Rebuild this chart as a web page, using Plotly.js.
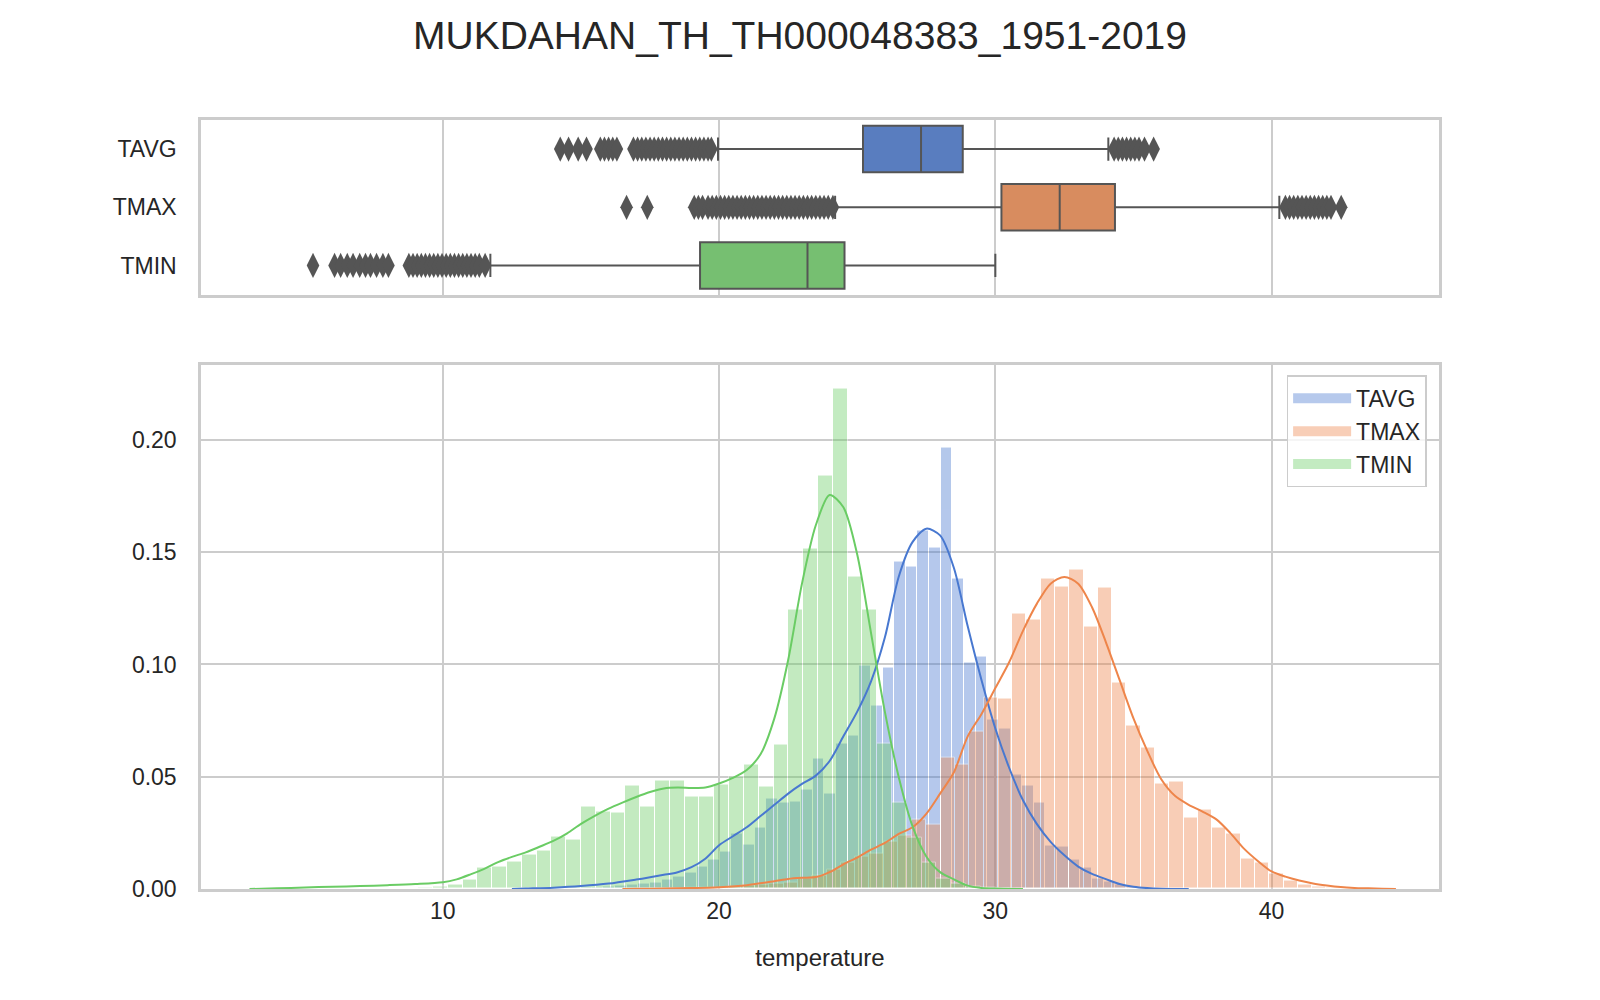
<!DOCTYPE html>
<html>
<head>
<meta charset="utf-8">
<script src="https://cdn.plot.ly/plotly-3.0.1.min.js"></script>
<style>
  html, body { margin: 0; padding: 0; background: #fff; }
  #chart { width: 1600px; height: 1000px; }
</style>
</head>
<body>
<div id="chart"></div>
<script>
// station series
var names = ['TAVG', 'TMAX', 'TMIN'];

// histogram bins (density)
var tavgBinStart = 14.13, tavgBinWidth = 0.421;
var tavgHist = [0.0002, 0.0003, 0.0005, 0.0007, 0.0010, 0.0015, 0.0020, 0.0025, 0.0030, 0.0040,
                0.0055, 0.0075, 0.0100, 0.0130, 0.0167, 0.0246, 0.0197, 0.0275, 0.0402, 0.0386,
                0.0391, 0.0443, 0.0582, 0.0425, 0.0648, 0.0685, 0.0995, 0.0817, 0.0986, 0.1458,
                0.1436, 0.1598, 0.1521, 0.1966, 0.1384, 0.1010, 0.1036, 0.0757, 0.0715, 0.0512,
                0.0460, 0.0383, 0.0194, 0.0190, 0.0131, 0.0095, 0.0048, 0.0032, 0.0021, 0.0011];

var tmaxBinStart = 16.65, tmaxBinWidth = 0.517;
var tmaxHist = [0.0002, 0.0002, 0.0003, 0.0003, 0.0005, 0.0006, 0.0008, 0.0010, 0.0014, 0.0018,
                0.0025, 0.0030, 0.0045, 0.0060, 0.0085, 0.0120, 0.0145, 0.0160, 0.0210, 0.0240,
                0.0310, 0.0288, 0.0584, 0.0555, 0.0700, 0.0853, 0.0848, 0.1229, 0.1200, 0.1384,
                0.1348, 0.1421, 0.1170, 0.1344, 0.0921, 0.0730, 0.0631, 0.0470, 0.0479, 0.0319,
                0.0353, 0.0273, 0.0245, 0.0135, 0.0120, 0.0070, 0.0037, 0.0021, 0.0011, 0.0006];

var tminBinStart = 9.106, tminBinWidth = 0.536;
var tminHist = [0.0005, 0.0010, 0.0020, 0.0040, 0.0094, 0.0099, 0.0124, 0.0154, 0.0172, 0.0233,
                0.0221, 0.0367, 0.0344, 0.0340, 0.0462, 0.0369, 0.0481, 0.0485, 0.0414, 0.0414,
                0.0466, 0.0503, 0.0555, 0.0456, 0.0644, 0.1243, 0.1518, 0.1843, 0.2227, 0.1391,
                0.1246, 0.0648, 0.0384, 0.0230, 0.0117, 0.0048, 0.0024, 0.0010, 0.0005, 0.0003];

// kde curves
var tavgKdeX = [12.5, 13, 14, 15, 16, 17, 17.5, 18, 18.5, 19, 19.5, 20, 20.5, 21, 21.5, 22, 22.5, 23, 23.5, 24,
                24.5, 25, 25.5, 26, 26.5, 27, 27.5, 28, 28.5, 29, 29.5, 30, 30.5, 31, 31.5, 32, 32.5, 33,
                33.5, 34, 34.5, 35, 35.5, 36, 37];
var tavgKdeY = [0, 0.0002, 0.0006, 0.0013, 0.0024, 0.0042, 0.0052, 0.0063, 0.0075, 0.0097, 0.0135, 0.0195,
                0.0235, 0.0275, 0.0325, 0.0375, 0.0425, 0.0468, 0.0505, 0.0570, 0.0680, 0.0790, 0.0925,
                0.1120, 0.1390, 0.1545, 0.1605, 0.1575, 0.1430, 0.1170, 0.0930, 0.0715, 0.0540, 0.0395,
                0.0290, 0.0210, 0.0150, 0.0100, 0.0067, 0.0044, 0.0022, 0.0010, 0.0004, 0.0001, 0];

var tmaxKdeX = [16.5, 17, 18, 19, 20, 21, 22, 22.5, 23, 23.5, 24, 24.5, 25, 25.5, 26, 26.5, 27, 27.5, 28,
                28.5, 29, 29.5, 30, 30.5, 31, 31.5, 32, 32.5, 33, 33.5, 34, 34.5, 35, 35.5, 36, 36.5, 37,
                37.5, 38, 38.5, 39, 39.5, 40, 40.5, 41, 41.5, 42, 42.5, 43, 43.5, 44, 44.5];
var tmaxKdeY = [0, 0.0001, 0.0002, 0.0004, 0.0008, 0.0017, 0.0035, 0.0045, 0.0050, 0.0053, 0.0075, 0.0110,
                0.0140, 0.0175, 0.0205, 0.0245, 0.0275, 0.0335, 0.0425, 0.0520, 0.0680, 0.0780, 0.0895,
                0.1010, 0.1150, 0.1270, 0.1360, 0.1390, 0.1360, 0.1255, 0.1100, 0.0930, 0.0760, 0.0615,
                0.0490, 0.0415, 0.0375, 0.0345, 0.0310, 0.0250, 0.0180, 0.0125, 0.0078, 0.0055, 0.0038,
                0.0025, 0.0016, 0.0009, 0.0005, 0.0003, 0.0001, 0];

var tminKdeX = [3, 4, 5, 6, 7, 8, 9, 10, 10.5, 11, 11.5, 12, 12.5, 13, 13.5, 14, 14.5, 15, 15.5, 16, 16.5,
                17, 17.5, 18, 18.5, 19, 19.5, 20, 20.5, 21, 21.5, 22, 22.5, 23, 23.5, 24, 24.5, 25, 25.5,
                26, 26.5, 27, 27.5, 28, 28.5, 29, 29.5, 30, 31];
var tminKdeY = [0, 0.0003, 0.0007, 0.0010, 0.0013, 0.0017, 0.0022, 0.0030, 0.0043, 0.0065, 0.0090, 0.0120,
                0.0143, 0.0163, 0.0188, 0.0214, 0.0248, 0.0290, 0.0326, 0.0358, 0.0385, 0.0410, 0.0432,
                0.0448, 0.0452, 0.0450, 0.0452, 0.0470, 0.0495, 0.0530, 0.0600, 0.0760, 0.1020, 0.1360,
                0.1620, 0.1755, 0.1700, 0.1490, 0.1140, 0.0790, 0.0500, 0.0280, 0.0145, 0.0075, 0.0043,
                0.0015, 0.0005, 0.0002, 0];

// box plot summaries: q1, median, q3, whisker ends
var boxQ1 = [25.21, 30.22, 19.31];
var boxMedian = [27.31, 32.33, 23.20];
var boxQ3 = [28.82, 34.33, 24.54];
var boxLow = [19.96, 24.20, 11.72];
var boxHigh = [34.09, 40.28, 30.00];

// outliers
var tavgOutliers = [14.25, 14.55, 14.9, 15.2, 15.7, 15.85, 16.0, 16.15, 16.3, 16.9, 17.05, 17.2, 17.35, 17.5,
                    17.65, 17.8, 17.95, 18.1, 18.25, 18.4, 18.55, 18.7, 18.85, 19.0, 19.15, 19.3, 19.45, 19.6, 19.72,
                    34.3, 34.45, 34.6, 34.75, 34.9, 35.05, 35.2, 35.4, 35.73];
var tmaxOutliers = [16.65, 17.4, 19.1, 19.25, 19.4, 19.6, 19.75, 19.9, 20.05, 20.2, 20.35, 20.5, 20.65, 20.8,
                    20.95, 21.1, 21.25, 21.4, 21.55, 21.7, 21.85, 22.0, 22.15, 22.3, 22.45, 22.6, 22.75, 22.9,
                    23.05, 23.2, 23.35, 23.5, 23.65, 23.8, 23.95, 24.12,
                    40.5, 40.65, 40.8, 40.95, 41.1, 41.25, 41.4, 41.55, 41.7, 41.85, 42.0, 42.15, 42.52];
var tminOutliers = [5.3, 6.08, 6.3, 6.54, 6.75, 6.99, 7.2, 7.38, 7.6, 7.83, 8.03,
                    8.77, 8.92, 9.07, 9.22, 9.37, 9.52, 9.67, 9.82, 9.97, 10.12, 10.27, 10.42, 10.57, 10.72,
                    10.87, 11.02, 11.17, 11.32, 11.53];

var histColors = ['#4878d0', '#ee854a', '#6acc64'];
var swatchColors = ['rgba(72,120,208,0.4)', 'rgba(238,133,74,0.4)', 'rgba(106,204,100,0.4)'];
var boxColors = ['#597dbf', '#d88c5f', '#76bf71'];
var grey = '#555555';

function binCenters(start, width, n) {
  var out = [];
  for (var i = 0; i < n; i++) out.push(start + (i + 0.5) * width);
  return out;
}

var hists = [
  [tavgBinStart, tavgBinWidth, tavgHist],
  [tmaxBinStart, tmaxBinWidth, tmaxHist],
  [tminBinStart, tminBinWidth, tminHist]
];
var kdes = [[tavgKdeX, tavgKdeY], [tmaxKdeX, tmaxKdeY], [tminKdeX, tminKdeY]];
var outliers = [tavgOutliers, tmaxOutliers, tminOutliers];

var data = [];

names.forEach(function (name, i) {
  var h = hists[i];
  data.push({
    type: 'bar',
    name: name,
    x: binCenters(h[0], h[1], h[2].length),
    y: h[2],
    width: h[1],
    marker: {color: histColors[i], line: {color: '#ffffff', width: 1}},
    opacity: 0.4,
    showlegend: false,
    xaxis: 'x', yaxis: 'y',
    hoverinfo: 'x+y'
  });
});

names.forEach(function (name, i) {
  data.push({
    type: 'scatter',
    mode: 'lines',
    x: kdes[i][0],
    y: kdes[i][1],
    line: {color: histColors[i], width: 2, shape: 'spline', smoothing: 0.8},
    showlegend: false,
    xaxis: 'x', yaxis: 'y'
  });
});

// legend entries only (wide patch like matplotlib)
names.forEach(function (name, i) {
  data.push({
    type: 'scatter',
    mode: 'lines',
    name: name,
    x: [null],
    y: [null],
    line: {color: swatchColors[i], width: 16},
    legendgroup: name,
    xaxis: 'x', yaxis: 'y'
  });
});

names.forEach(function (name, i) {
  data.push({
    type: 'box',
    orientation: 'h',
    y: [name],
    q1: [boxQ1[i]],
    median: [boxMedian[i]],
    q3: [boxQ3[i]],
    lowerfence: [boxLow[i]],
    upperfence: [boxHigh[i]],
    fillcolor: boxColors[i],
    line: {color: grey, width: 2},
    whiskerwidth: 0.5,
    width: 0.8,
    boxpoints: false,
    showlegend: false,
    xaxis: 'x2', yaxis: 'y2'
  });
  data.push({
    type: 'scatter',
    mode: 'markers',
    x: outliers[i],
    y: outliers[i].map(function () { return name; }),
    marker: {symbol: 'diamond-tall', size: 18, color: grey},
    showlegend: false,
    xaxis: 'x2', yaxis: 'y2'
  });
});

var axisStyle = {
  showgrid: true,
  gridcolor: '#cccccc',
  gridwidth: 2,
  showline: true,
  mirror: true,
  linecolor: '#cccccc',
  linewidth: 2.5,
  zeroline: false
};

var layout = {
  width: 1600,
  height: 1000,
  paper_bgcolor: '#ffffff',
  plot_bgcolor: '#ffffff',
  font: {family: 'Liberation Sans, Arial, sans-serif', size: 23, color: '#262626'},
  margin: {l: 201, r: 161, t: 120, b: 111},
  title: {
    text: 'MUKDAHAN_TH_TH000048383_1951-2019',
    font: {size: 39, color: '#262626'},
    x: 0.5, xanchor: 'center',
    y: 0.965, yanchor: 'middle'
  },
  barmode: 'overlay',
  bargap: 0,
  showlegend: true,
  legend: {
    x: 0.99, xanchor: 'right',
    y: 0.668, yanchor: 'top',
    bgcolor: 'rgba(255,255,255,0.8)',
    bordercolor: '#cccccc',
    borderwidth: 1.5,
    font: {size: 23},
    tracegroupgap: 7,
    itemwidth: 58,
    traceorder: 'normal'
  },
  xaxis: Object.assign({}, axisStyle, {
    domain: [0, 1],
    anchor: 'y',
    range: [1.245, 46.06],
    tickvals: [10, 20, 30, 40],
    ticks: '',
    title: {text: 'temperature', font: {size: 24}, standoff: 26}
  }),
  yaxis: Object.assign({}, axisStyle, {
    domain: [0, 0.682],
    anchor: 'x',
    range: [0, 0.2336],
    tickvals: [0, 0.05, 0.10, 0.15, 0.20],
    tickformat: '.2f',
    ticks: 'outside', ticklen: 17, tickcolor: 'rgba(0,0,0,0)'
  }),
  xaxis2: Object.assign({}, axisStyle, {
    domain: [0, 1],
    anchor: 'y2',
    matches: 'x',
    range: [1.245, 46.06],
    tickvals: [10, 20, 30, 40],
    showticklabels: false
  }),
  yaxis2: Object.assign({}, axisStyle, {
    domain: [0.773, 1],
    anchor: 'x2',
    type: 'category',
    categoryorder: 'array',
    categoryarray: names,
    range: [2.5, -0.5],
    showgrid: false,
    ticks: 'outside', ticklen: 17, tickcolor: 'rgba(0,0,0,0)'
  }),
  hovermode: 'closest'
};

Plotly.newPlot('chart', data, layout, {displayModeBar: false});
</script>
</body>
</html>
